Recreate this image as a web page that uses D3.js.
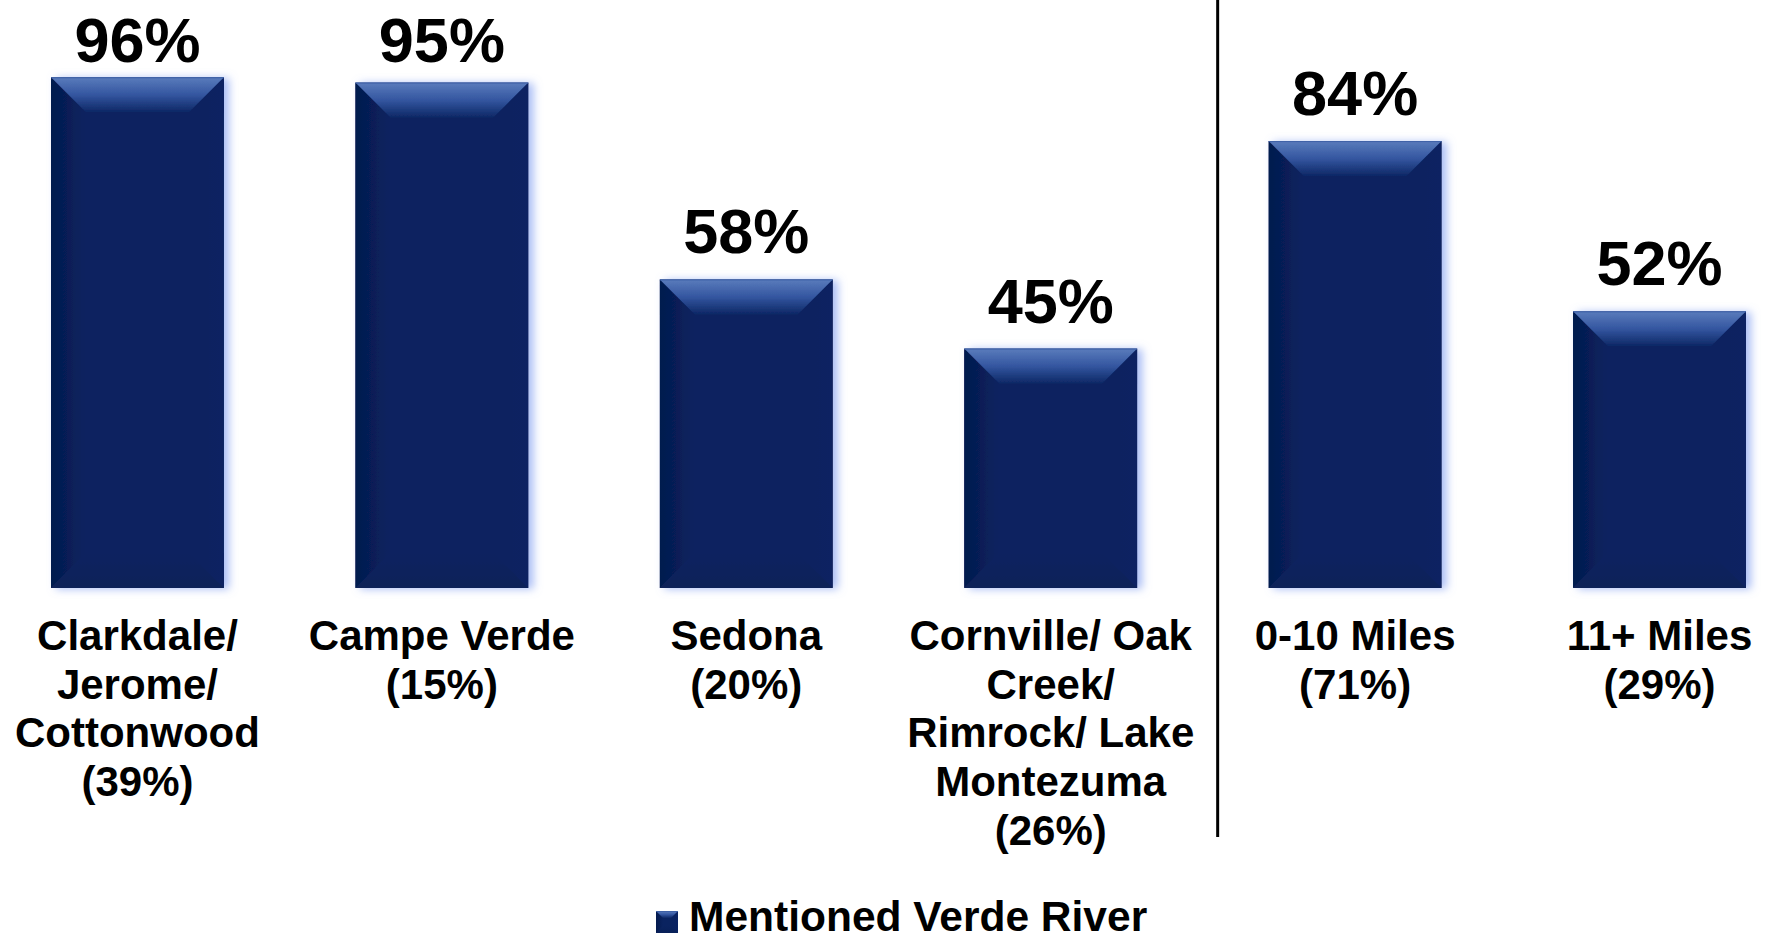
<!DOCTYPE html>
<html>
<head>
<meta charset="utf-8">
<script src="https://cdn.jsdelivr.net/npm/d3@7"></script>
<style>
    html, body { margin: 0; padding: 0; background: #ffffff; }
    #chart { width: 1765px; height: 942px; }
    text { font-family: 'Liberation Sans', Arial, sans-serif; font-weight: bold; fill: #000; }
</style>
</head>
<body>
<div id="chart"></div>
<script>
const categories = ['Clarkdale', 'Campe Verde', 'Sedona', 'Cornville', '0-10 Miles', '11+ Miles'];
const categoryLines = [
    ['Clarkdale/', 'Jerome/', 'Cottonwood', '(39%)'],
    ['Campe Verde', '(15%)'],
    ['Sedona', '(20%)'],
    ['Cornville/ Oak', 'Creek/', 'Rimrock/ Lake', 'Montezuma', '(26%)'],
    ['0-10 Miles', '(71%)'],
    ['11+ Miles', '(29%)'],
];
const mentionedVerde = [96, 95, 58, 45, 84, 52];
const legendLabel = 'Mentioned Verde River';

const width = 1765;
const height = 942;
const baseY = 588;
const topY = 56;

const svg = d3.select('#chart').append('svg')
    .attr('width', width)
    .attr('height', height);

const defs = svg.append('defs');

// s: bevel gradients
const topGrad = defs.append('linearGradient').attr('id', 'topGrad')
    .attr('x1', 0).attr('y1', 0).attr('x2', 0).attr('y2', 1);
topGrad.append('stop').attr('offset', '0%').attr('stop-color', '#5a7cbc');
topGrad.append('stop').attr('offset', '50%').attr('stop-color', '#3456a0');
topGrad.append('stop').attr('offset', '100%').attr('stop-color', '#0d2765');

const leftGrad = defs.append('linearGradient').attr('id', 'leftGrad')
    .attr('x1', 0).attr('y1', 0).attr('x2', 1).attr('y2', 0);
leftGrad.append('stop').attr('offset', '0%').attr('stop-color', '#041a4e');
leftGrad.append('stop').attr('offset', '100%').attr('stop-color', '#0a2360');

const rightGrad = defs.append('linearGradient').attr('id', 'rightGrad')
    .attr('x1', 0).attr('y1', 0).attr('x2', 1).attr('y2', 0);
rightGrad.append('stop').attr('offset', '0%').attr('stop-color', '#0a2360');
rightGrad.append('stop').attr('offset', '100%').attr('stop-color', '#092262');

const bottomGrad = defs.append('linearGradient').attr('id', 'bottomGrad')
    .attr('x1', 0).attr('y1', 0).attr('x2', 0).attr('y2', 1);
bottomGrad.append('stop').attr('offset', '0%').attr('stop-color', '#0a2360');
bottomGrad.append('stop').attr('offset', '100%').attr('stop-color', '#082058');

const glow = defs.append('filter').attr('id', 'glow')
    .attr('x', '-10%').attr('y', '-10%').attr('width', '130%').attr('height', '120%');
glow.append('feGaussianBlur').attr('in', 'SourceAlpha').attr('stdDeviation', 4).attr('result', 'blur');
glow.append('feOffset').attr('in', 'blur').attr('dx', 5).attr('dy', 1).attr('result', 'off');
glow.append('feFlood').attr('flood-color', '#8ea8f2').attr('flood-opacity', 0.75);
glow.append('feComposite').attr('in2', 'off').attr('operator', 'in').attr('result', 'shadow');
const merge = glow.append('feMerge');
merge.append('feMergeNode').attr('in', 'shadow');
merge.append('feMergeNode').attr('in', 'SourceGraphic');

// s: scales
const x = d3.scaleBand()
    .domain(categories)
    .range([16, 1781])
    .paddingInner(0.432)
    .paddingOuter(0.115);

const y = d3.scaleLinear()
    .domain([0, 100])
    .range([baseY, topY]);

function bevelBox(g, x0, y0, w, h, b) {
    const x1 = x0 + w;
    const y1 = y0 + h;
    const bb = Math.min(b, w / 2, h / 2);
    g.append('rect')
        .attr('x', x0).attr('y', y0).attr('width', w).attr('height', h)
        .attr('fill', '#0a2360');
    g.append('polygon')
        .attr('points', [[x0, y0], [x0 + bb, y0 + bb], [x0 + bb, y1 - bb], [x0, y1]].join(' '))
        .attr('fill', 'url(#leftGrad)');
    g.append('polygon')
        .attr('points', [[x1, y0], [x1 - bb, y0 + bb], [x1 - bb, y1 - bb], [x1, y1]].join(' '))
        .attr('fill', 'url(#rightGrad)');
    g.append('polygon')
        .attr('points', [[x0, y1], [x0 + bb, y1 - bb], [x1 - bb, y1 - bb], [x1, y1]].join(' '))
        .attr('fill', 'url(#bottomGrad)');
    g.append('polygon')
        .attr('points', [[x0, y0], [x1, y0], [x1 - bb, y0 + bb], [x0 + bb, y0 + bb]].join(' '))
        .attr('fill', 'url(#topGrad)');
    g.append('line')
        .attr('x1', x0).attr('x2', x1).attr('y1', y0 + 0.5).attr('y2', y0 + 0.5)
        .attr('stroke', '#3e60a6').attr('stroke-width', 1);
}

// s: bars
categories.forEach((c, i) => {
    const g = svg.append('g').attr('filter', 'url(#glow)');
    const v = mentionedVerde[i];
    bevelBox(g, x(c), y(v), x.bandwidth(), y(0) - y(v), 35);
});

// s: value labels
svg.selectAll('text.value')
    .data(mentionedVerde)
    .join('text')
    .attr('class', 'value')
    .attr('x', (d, i) => x(categories[i]) + x.bandwidth() / 2)
    .attr('y', (d) => Math.max(y(d) - 26, 62))
    .attr('text-anchor', 'middle')
    .style('font-size', '63px')
    .text((d) => `${d}%`);

// s: category labels
const labelGroups = svg.selectAll('text.cat')
    .data(categoryLines)
    .join('text')
    .attr('class', 'cat')
    .attr('text-anchor', 'middle')
    .style('font-size', '42px');
labelGroups.each(function (lines, i) {
    const cx = x(categories[i]) + x.bandwidth() / 2;
    d3.select(this).selectAll('tspan')
        .data(lines)
        .join('tspan')
        .attr('x', cx)
        .attr('y', (d, j) => 650 + j * 48.7)
        .text((d) => d);
});

// s: divider
const divX = x(categories[4]) - 51;
svg.append('line')
    .attr('x1', divX).attr('x2', divX)
    .attr('y1', 0).attr('y2', 837)
    .attr('stroke', '#000').attr('stroke-width', 3);

// s: legend
const lg = svg.append('g');
bevelBox(lg, 656, 911, 22, 22, 7);
lg.append('text')
    .attr('x', 689)
    .attr('y', 931)
    .style('font-size', '42.5px')
    .text(legendLabel);
</script>
</body>
</html>
